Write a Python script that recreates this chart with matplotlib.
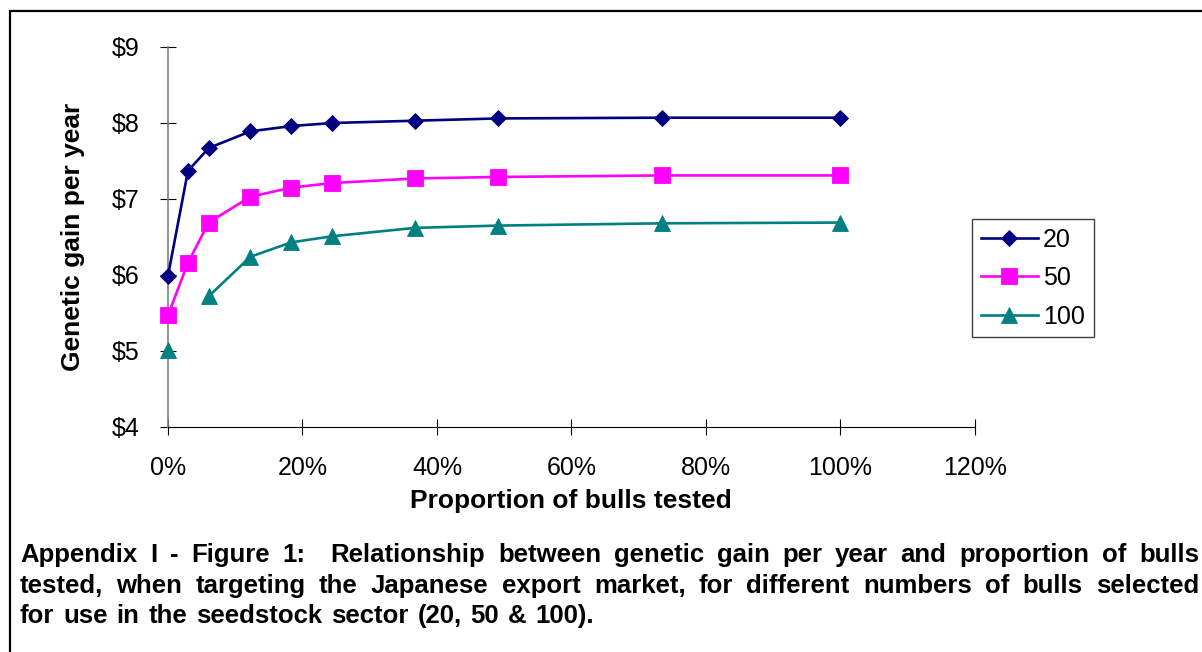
import numpy as np
import matplotlib
matplotlib.use('Agg')
import matplotlib.pyplot as plt
from matplotlib.patches import Rectangle

plt.rcParams['font.family'] = ['Liberation Sans', 'DejaVu Sans']

# proportion of bulls tested (fraction) and genetic gain ($/year) per number of bulls selected
prop_tested = [0, 0.0297, 0.0605, 0.1225, 0.1835, 0.2445, 0.367, 0.49, 0.7353, 1.0]
gain_20 = [5.99, 7.37, 7.67, 7.89, 7.96, 8.00, 8.03, 8.06, 8.07, 8.07]
gain_50 = [5.47, 6.16, 6.69, 7.03, 7.15, 7.21, 7.27, 7.29, 7.31, 7.31]
gain_100 = [5.01, np.nan, 5.72, 6.24, 6.43, 6.51, 6.62, 6.65, 6.68, 6.69]
series_labels = ['20', '50', '100']

x_ticks = [0, 0.2, 0.4, 0.6, 0.8, 1.0, 1.2]
x_ticklabels = ['0%', '20%', '40%', '60%', '80%', '100%', '120%']
y_ticks = [4, 5, 6, 7, 8, 9]
y_ticklabels = ['$4', '$5', '$6', '$7', '$8', '$9']

caption_lines = [
    'Appendix I - Figure 1:  Relationship between genetic gain per year and proportion of bulls',
    'tested, when targeting the Japanese export market, for different numbers of bulls selected',
    'for use in the seedstock sector (20, 50 & 100).',
]

W, H = 1202, 652
fig = plt.figure(figsize=(W / 100, H / 100), dpi=100)
ax = fig.add_axes([168 / W, 1 - 427 / H, 807 / W, 380 / H])

styles = [
    dict(color='#000080', marker='D', markersize=8.5),
    dict(color='#FF00FF', marker='s', markersize=11),
    dict(color='#008080', marker='^', markersize=11),
]
for gains, label, st in zip([gain_20, gain_50, gain_100], series_labels, styles):
    ax.plot(prop_tested, gains, label=label, linewidth=1.9, markeredgewidth=0.6,
            clip_on=False, zorder=3, **st)

ax.set_xlim(0, 1.2)
ax.set_ylim(4, 9)
ax.set_xticks(x_ticks)
ax.set_xticklabels(x_ticklabels)
ax.set_yticks(y_ticks)
ax.set_yticklabels(y_ticklabels)
ax.tick_params(axis='both', direction='inout', length=11.5, width=0.8, labelsize=18, pad=15)
ax.spines['top'].set_visible(False)
ax.spines['right'].set_visible(False)
ax.spines['left'].set_color('#808080')
ax.spines['left'].set_linewidth(1.2)
ax.spines['bottom'].set_linewidth(0.8)

fig.text(73 / W, 1 - 237 / H, 'Genetic gain per year', rotation=90, ha='center', va='center',
         fontsize=19, fontweight='bold')
fig.text(571 / W, 1 - 501 / H, 'Proportion of bulls tested', ha='center', va='center',
         fontsize=19, fontweight='bold')

leg = ax.legend(loc='upper left', bbox_to_anchor=(972 / W, 1 - 219 / H),
                bbox_transform=fig.transFigure, borderaxespad=0, fontsize=18,
                frameon=True, fancybox=False, framealpha=1, handlelength=2.3,
                handletextpad=0.2, labelspacing=0.58, borderpad=0.35)
leg.get_frame().set_edgecolor('#404040')
leg.get_frame().set_linewidth(1.0)

# outer border around figure and caption
fig.add_artist(Rectangle((10 / W, -0.1), 1.2, 1 - 11 / H + 0.1, transform=fig.transFigure,
                         fill=False, edgecolor='black', linewidth=1.6, clip_on=False))

# justified caption; the last line is spread over a shorter width
cap_size = 18.5
renderer = fig.canvas.get_renderer()
x_left = 20
line_ends = [1199, 1199, 594]
baselines = [562, 593, 623]
for line, x_right, yb in zip(caption_lines, line_ends, baselines):
    words = line.split(' ')
    texts = [fig.text(0, 1 - yb / H, w, fontsize=cap_size, fontweight='bold', va='baseline')
             for w in words]
    widths = [t.get_window_extent(renderer).width if w else 0 for t, w in zip(texts, words)]
    gap = (x_right - x_left - sum(widths)) / (len(words) - 1)
    x = x_left
    for t, wd in zip(texts, widths):
        t.set_x(x / W)
        x += wd + gap

fig.savefig('out.png', dpi=100)
